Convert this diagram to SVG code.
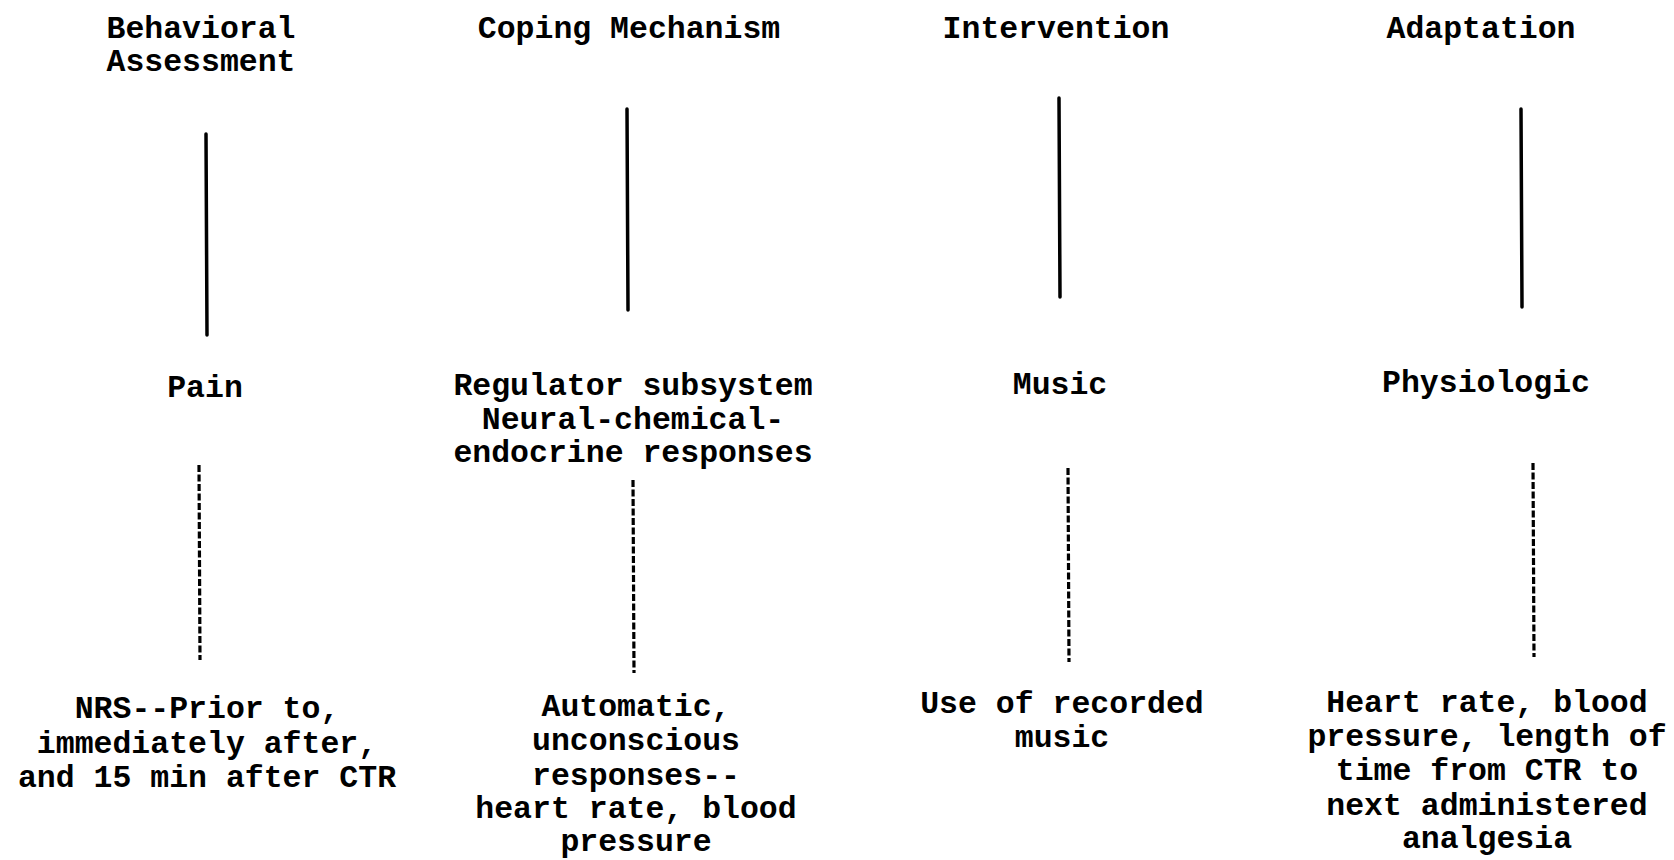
<svg xmlns="http://www.w3.org/2000/svg" width="1674" height="860" viewBox="0 0 1674 860">
<style>
text { font-family: "Liberation Mono", "Courier New", monospace; font-weight: bold; font-size: 31.5px; fill: #000; text-anchor: middle; }
.solid { stroke: #000; stroke-width: 3.5; fill: none; stroke-linecap: round; }
.dash { stroke: #000; stroke-width: 3.2; fill: none; stroke-dasharray: 7 2.5; }
</style>
<rect width="1674" height="860" fill="#fff"/>
<g id="h1"><text x="201" y="38">Behavioral</text><text x="201" y="71">Assessment</text></g>
<g id="h2"><text x="629" y="38">Coping Mechanism</text></g>
<g id="h3"><text x="1056" y="38">Intervention</text></g>
<g id="h4"><text x="1481" y="38">Adaptation</text></g>
<g id="m1"><text x="205" y="397">Pain</text></g>
<g id="m2"><text x="633" y="395">Regulator subsystem</text><text x="633" y="429">Neural-chemical-</text><text x="633" y="462">endocrine responses</text></g>
<g id="m3"><text x="1060" y="394">Music</text></g>
<g id="m4"><text x="1486" y="392">Physiologic</text></g>
<g id="b1"><text x="207" y="718">NRS--Prior to,</text><text x="207" y="753">immediately after,</text><text x="207" y="787">and 15 min after CTR</text></g>
<g id="b2"><text x="636" y="716">Automatic,</text><text x="636" y="750">unconscious</text><text x="636" y="785">responses--</text><text x="636" y="818">heart rate, blood</text><text x="636" y="851">pressure</text></g>
<g id="b3"><text x="1062" y="713">Use of recorded</text><text x="1062" y="747">music</text></g>
<g id="b4"><text x="1487" y="712">Heart rate, blood</text><text x="1487" y="746">pressure, length of</text><text x="1487" y="780">time from CTR to</text><text x="1487" y="815">next administered</text><text x="1487" y="848">analgesia</text></g>
<g id="connectors">
<line class="solid" x1="206" y1="134" x2="207" y2="335"/>
<line class="solid" x1="627" y1="109" x2="628" y2="310"/>
<line class="solid" x1="1059" y1="98" x2="1060" y2="297"/>
<line class="solid" x1="1521" y1="109" x2="1522" y2="307"/>
<line class="dash" x1="199" y1="465" x2="200" y2="660"/>
<line class="dash" x1="633" y1="480" x2="634" y2="673"/>
<line class="dash" x1="1068" y1="468" x2="1069" y2="662"/>
<line class="dash" x1="1533" y1="463" x2="1534" y2="657"/>
</g>
</svg>
